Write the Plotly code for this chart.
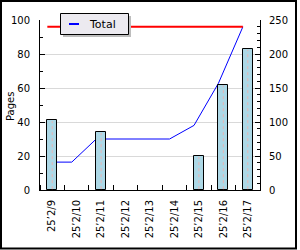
import plotly.graph_objects as go

# ---- data ----
dates = ["25\u20192/9", "25\u20192/10", "25\u20192/11", "25\u20192/12", "25\u20192/13",
         "25\u20192/14", "25\u20192/15", "25\u20192/16", "25\u20192/17"]
pages = [41, 0, 34, 0, 0, 0, 20, 62, 83]
cumulative = [41, 41, 75, 75, 75, 75, 95, 157, 240]
total = 240

W, H = 300, 250
ML, MR, MT, MB = 40, 40, 20, 60
PW, PH = W - ML - MR, H - MT - MB

def px(x):
    return (x - ML) / PW

def py(y):
    return (H - MB - y) / PH

idx = list(range(len(dates)))
line_shift = -0.2

fig = go.Figure()

# lines on primary (right side) axis -> drawn beneath bars
fig.add_trace(go.Scatter(
    x=[i + line_shift for i in idx], y=cumulative, mode="lines",
    line=dict(color="#0000ff", width=1), name="Total", yaxis="y", showlegend=False))
fig.add_trace(go.Scatter(
    x=[idx[0] + line_shift, idx[-1] + line_shift], y=[total, total], mode="lines",
    line=dict(color="#ff0000", width=2), yaxis="y", showlegend=False))

# bars on overlaying left axis (zero values drawn as nothing)
fig.add_trace(go.Bar(
    x=idx, y=[v if v else None for v in pages], width=0.41, yaxis="y2", showlegend=False,
    marker=dict(color="#add8e6", line=dict(color="#000000", width=1))))

# dotted centre lines inside bars
dx, dy = [], []
for i, v in zip(idx, pages):
    if v > 0:
        dx += [i, i, None]
        dy += [0.5, v - 0.5, None]
fig.add_trace(go.Scatter(x=dx, y=dy, mode="lines", yaxis="y2", showlegend=False,
                         line=dict(color="#e8b4b4", width=1, dash="dot"),
                         hoverinfo="skip"))

font = dict(family="DejaVu Sans", size=10, color="#000000")

fig.update_layout(
    width=W, height=H,
    margin=dict(l=ML, r=MR, t=MT, b=MB, pad=0, autoexpand=False),
    paper_bgcolor="#ffffff", plot_bgcolor="#ffffff",
    font=font,
    showlegend=False,
    bargap=0,
    xaxis=dict(
        range=[-0.5, 8.5], tickvals=idx, ticktext=dates, tickangle=-90,
        ticks="", showgrid=False, zeroline=False, automargin=False,
        showline=True, linecolor="#000000", linewidth=1,
        minor=dict(tick0=0.5, dtick=1, ticks="inside", ticklen=5,
                   tickcolor="#000000", showgrid=False),
        tickfont=font, ticklabelstandoff=5,
    ),
    yaxis=dict(
        side="right", range=[0, 250], dtick=50, showgrid=False, zeroline=False,
        showline=True, linecolor="#000000", linewidth=1, automargin=False,
        ticks="inside", ticklen=5, tickcolor="#000000",
        minor=dict(dtick=10, ticks="inside", ticklen=3, tickcolor="#000000"),
        tickfont=font, ticklabelstandoff=6,
    ),
    yaxis2=dict(
        overlaying="y", side="left", range=[0, 100], dtick=20,
        showgrid=True, gridcolor="#d9d9d9", gridwidth=1, zeroline=False,
        showline=True, linecolor="#000000", linewidth=1, automargin=False,
        ticks="inside", ticklen=5, tickcolor="#000000",
        minor=dict(dtick=10, ticks="inside", ticklen=3, tickcolor="#000000"),
        tickfont=font, ticklabelstandoff=7,
    ),
)

shapes = []
# outer frame
shapes.append(dict(type="rect", xref="paper", yref="paper",
                   x0=px(1), x1=px(296), y0=py(1), y1=py(248.5),
                   line=dict(color="#000000", width=2), fillcolor="rgba(0,0,0,0)"))
# legend shadow and box
shapes.append(dict(type="rect", xref="paper", yref="paper",
                   x0=px(63), x1=px(131), y0=py(16), y1=py(37),
                   line=dict(width=0), fillcolor="#bdbdbd"))
shapes.append(dict(type="rect", xref="paper", yref="paper",
                   x0=px(60.5), x1=px(128.5), y0=py(13.5), y1=py(34.5),
                   line=dict(color="#000000", width=1), fillcolor="#eceaf0"))
shapes.append(dict(type="line", xref="paper", yref="paper",
                   x0=px(69), x1=px(79), y0=py(24), y1=py(24),
                   line=dict(color="#0000ff", width=2)))
fig.update_layout(shapes=shapes)

fig.add_annotation(xref="paper", yref="paper", x=px(87), y=py(24),
                   xanchor="left", yanchor="middle", text="Total",
                   showarrow=False, font=dict(family="DejaVu Sans", size=11, color="#000000"))

# y-axis title
fig.add_annotation(xref="paper", yref="paper", x=px(10), y=py(107),
                   xanchor="center", yanchor="middle", text="Pages", textangle=-90,
                   showarrow=False, font=font)

fig.write_html("out.html")
